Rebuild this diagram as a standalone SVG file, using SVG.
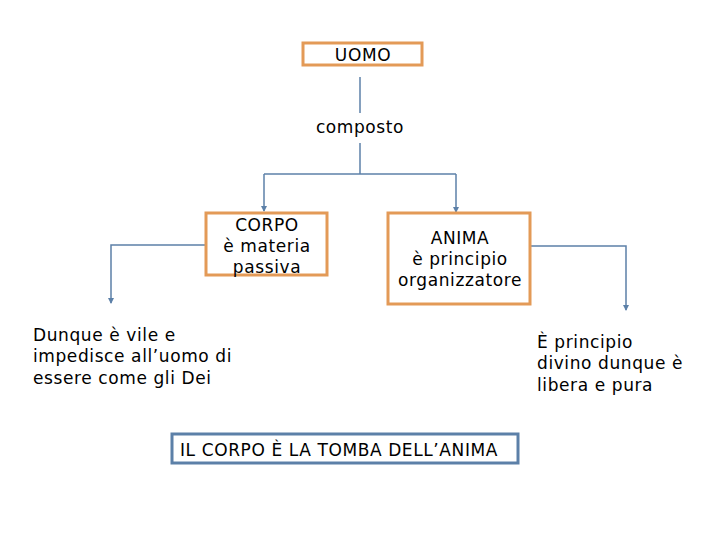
<svg xmlns="http://www.w3.org/2000/svg" width="720" height="540" viewBox="0 0 720 540">
<defs>
<style>
text{font-family:"DejaVu Sans","Verdana",sans-serif;font-size:17px;letter-spacing:0.6px;fill:#000}
.c{text-anchor:middle}
.ob{fill:#fff;stroke:#E39A57;stroke-width:3}
.bb{fill:#fff;stroke:#5C80A8;stroke-width:3}
.ln{fill:none;stroke:#5C80A8;stroke-width:1.5}
</style>
<marker id="ad" viewBox="0 0 6 6" refX="3" refY="5" markerWidth="6" markerHeight="6" markerUnits="userSpaceOnUse">
<path d="M0,0 L6,0 L3,6 Z" fill="#5C80A8"/>
</marker>
</defs>
<rect width="720" height="540" fill="#fff"/>
<g id="connectors">
<path class="ln" d="M360,77 V113"/>
<path class="ln" d="M360,143 V174"/>
<path class="ln" d="M264,174 H456"/>
<path class="ln" d="M264,174 V211" marker-end="url(#ad)"/>
<path class="ln" d="M456,174 V212" marker-end="url(#ad)"/>
<path class="ln" d="M206,245 H111 V303" marker-end="url(#ad)"/>
<path class="ln" d="M530,246 H626 V310" marker-end="url(#ad)"/>
</g>
<g id="uomo">
<rect class="ob" x="303" y="43" width="119" height="22"/>
<text class="c" x="363" y="61">UOMO</text>
</g>
<g id="composto">
<text class="c" x="360" y="133">composto</text>
</g>
<g id="corpo">
<rect class="ob" x="206" y="213" width="121" height="62"/>
<text class="c" x="267" y="231">CORPO</text>
<text class="c" x="267" y="252">è materia</text>
<text class="c" x="267" y="273">passiva</text>
</g>
<g id="anima">
<rect class="ob" x="388" y="213" width="142" height="91"/>
<text class="c" x="460" y="244">ANIMA</text>
<text class="c" x="460" y="265">è principio</text>
<text class="c" x="460" y="286">organizzatore</text>
</g>
<g id="dunque">
<text x="33" y="341">Dunque è vile e</text>
<text x="33" y="362">impedisce all’uomo di</text>
<text x="33" y="384">essere come gli Dei</text>
</g>
<g id="divino">
<text x="537" y="348">È principio</text>
<text x="537" y="369">divino dunque è</text>
<text x="537" y="391">libera e pura</text>
</g>
<g id="tomba">
<rect class="bb" x="172" y="434" width="346" height="29"/>
<text x="180" y="456">IL CORPO È LA TOMBA DELL’ANIMA</text>
</g>
</svg>
